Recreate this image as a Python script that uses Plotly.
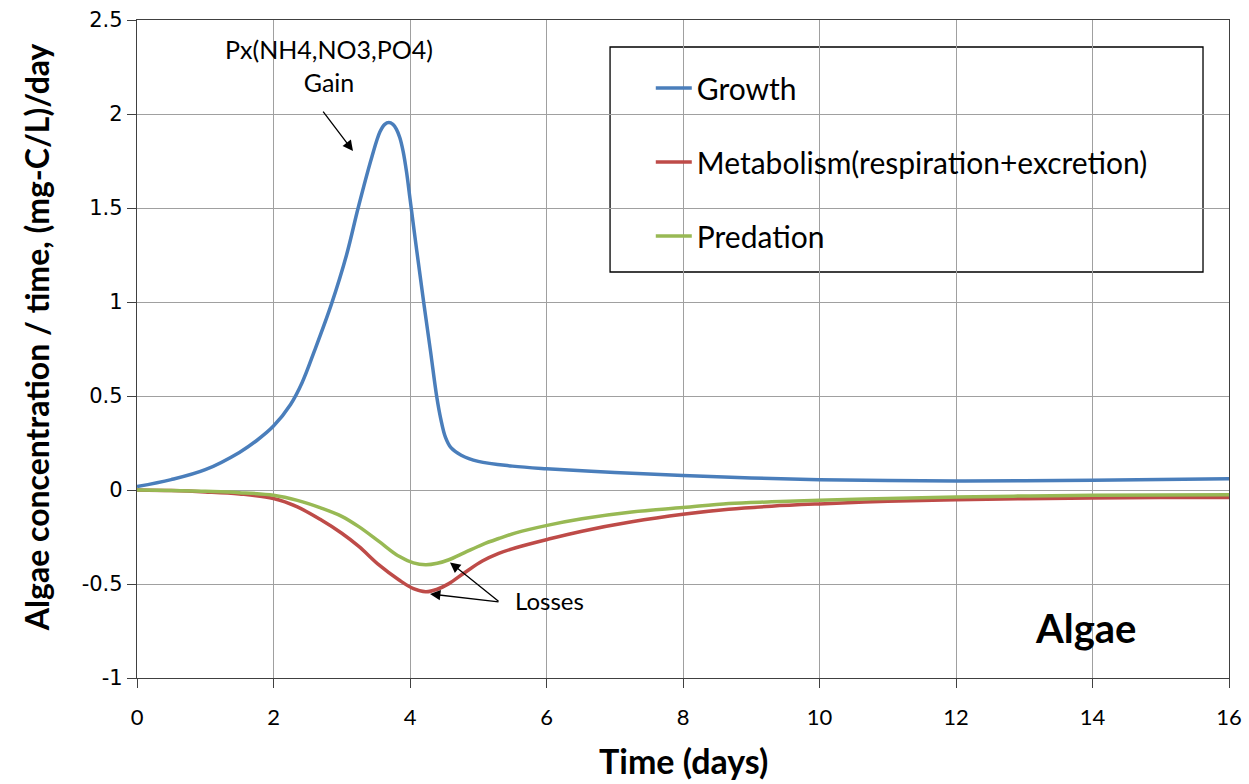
import plotly.graph_objects as go

# ---------------- data ----------------
t_growth = [0, 0.5, 1.0, 1.5, 1.75, 2.0, 2.25, 2.42, 2.6, 2.85, 3.07, 3.24, 3.44, 3.56, 3.63, 3.69,
            3.75, 3.8, 3.85, 3.9, 3.95, 4.0, 4.1, 4.2, 4.3, 4.39, 4.45, 4.52, 4.6, 4.75, 5.0, 5.5,
            6.0, 7.0, 8.0, 9.0, 10.0, 11.0, 12.0, 13.0, 14.0, 15.0, 16.0]
growth = [0.018, 0.055, 0.108, 0.2, 0.262, 0.34, 0.455, 0.572, 0.74, 0.99, 1.25, 1.5, 1.77, 1.905, 1.945, 1.955,
          1.945, 1.92, 1.875, 1.8, 1.69, 1.55, 1.27, 1.0, 0.74, 0.5, 0.38, 0.28, 0.225, 0.185, 0.152, 0.127,
          0.113, 0.093, 0.077, 0.064, 0.055, 0.05, 0.048, 0.049, 0.052, 0.056, 0.06]

t_loss = [0, 0.5, 1.0, 1.5, 2.0, 2.35, 2.7, 3.0, 3.25, 3.55, 3.84, 4.05, 4.23, 4.4, 4.57, 4.8,
          5.06, 5.3, 5.55, 6.01, 6.52, 7.25, 8.0, 8.67, 9.3, 10.0, 11.0, 12.0, 13.0, 14.0, 15.0, 16.0]
metabolism = [0, -0.003, -0.01, -0.021, -0.045, -0.09, -0.16, -0.23, -0.30, -0.40, -0.479, -0.525, -0.541,
              -0.528, -0.498, -0.44, -0.378, -0.337, -0.307, -0.263, -0.219, -0.169, -0.129, -0.102, -0.086,
              -0.074, -0.06, -0.052, -0.046, -0.042, -0.04, -0.04]
predation = [0, -0.002, -0.007, -0.014, -0.028, -0.055, -0.096, -0.14, -0.195, -0.275, -0.353, -0.388, -0.398,
             -0.39, -0.371, -0.333, -0.29, -0.258, -0.228, -0.188, -0.153, -0.117, -0.0935, -0.072, -0.063,
             -0.055, -0.045, -0.037, -0.032, -0.028, -0.026, -0.025]

series_names = ["Growth", "Metabolism(respiration+excretion)", "Predation"]
series_colors = ["#4A7EBB", "#BE4B48", "#98B954"]

x_ticks = [0, 2, 4, 6, 8, 10, 12, 14, 16]
x_tick_text = ["0", "2", "4", "6", "8", "10", "12", "14", "16"]
y_ticks = [-1, -0.5, 0, 0.5, 1, 1.5, 2, 2.5]
y_tick_text = ["-1", "-0.5", "0", "0.5", "1", "1.5", "2", "2.5"]

x_title = "Time (days)"
y_title = "Algae concentration / time, (mg-C/L)/day"

# ---------------- figure ----------------
fig = go.Figure()
for i, (tx, ty) in enumerate([(t_growth, growth), (t_loss, metabolism), (t_loss, predation)]):
    fig.add_trace(go.Scatter(
        x=tx, y=ty, mode="lines", name=series_names[i], legendgroup=f"g{i}",
        line=dict(color=series_colors[i], width=3.5, shape="spline", smoothing=1.0),
    ))

AX = "#404040"
GRID = "#A0A0A0"

fig.update_layout(
    width=1249, height=784,
    margin=dict(l=137, r=20, t=20, b=106),
    paper_bgcolor="white", plot_bgcolor="white",
    font=dict(family="Lato", color="black"),
    showlegend=True,
    legend=dict(
        x=0.4705, y=0.936, xanchor="left", yanchor="top",
        bgcolor="rgba(0,0,0,0)", borderwidth=0,
        font=dict(family="Lato", size=30, color="black"),
        tracegroupgap=32, itemwidth=36,
    ),
    xaxis=dict(
        range=[0, 16], tickvals=x_ticks, ticktext=x_tick_text, automargin=False,
        showgrid=True, gridcolor=GRID, gridwidth=1, zeroline=False,
        showline=True, linecolor=AX, linewidth=1.3, mirror=True,
        ticks="outside", ticklen=9, tickcolor=AX, tickwidth=1,
        ticklabelstandoff=10,
        tickfont=dict(family="Lato", size=22, color="black"),
    ),
    yaxis=dict(
        range=[-1, 2.5], tickvals=y_ticks, ticktext=y_tick_text, automargin=False,
        showgrid=True, gridcolor=GRID, gridwidth=1, zeroline=False,
        showline=True, linecolor=AX, linewidth=1.3, mirror=True,
        ticks="outside", ticklen=9, tickcolor=AX, tickwidth=1,
        tickfont=dict(family="DejaVu Sans", size=21, color="black"),
    ),
)

# axis titles
fig.add_annotation(xref="paper", yref="paper", x=0.5, y=-0.125, yanchor="middle", showarrow=False,
                   text=f"<b>{x_title}</b>", font=dict(family="Lato", size=34, color="black"))
fig.add_annotation(xref="paper", yref="paper", x=-0.0925, y=0.518, xanchor="center", yanchor="middle",
                   textangle=-90, showarrow=False,
                   text=f"<b>{y_title}</b>", font=dict(family="Lato", size=32, color="black"))

# white boxes (legend frame and text boxes covering the grid)
fig.add_shape(type="rect", xref="paper", yref="paper", x0=0.4332, x1=0.9762, y0=0.617, y1=0.959,
              line=dict(color="black", width=1.3), fillcolor="white", layer="between")
fig.add_shape(type="rect", xref="paper", yref="paper", x0=0.0275, x1=0.323, y0=0.851, y1=0.995,
              line=dict(width=0), fillcolor="white", layer="between")
fig.add_shape(type="rect", xref="paper", yref="paper", x0=0.334, x1=0.4707, y0=0.07, y1=0.1565,
              line=dict(width=0), fillcolor="white", layer="between")
fig.add_shape(type="rect", xref="paper", yref="paper", x0=0.80, x1=0.946, y0=0.018, y1=0.14,
              line=dict(width=0), fillcolor="white", layer="between")

# text annotations
fig.add_annotation(x=2.813, y=2.258, text="Px(NH4,NO3,PO4)<br>Gain", showarrow=False,
                   font=dict(family="Lato", size=25, color="black"))
fig.add_annotation(x=6.05, y=-0.59, text="Losses", showarrow=False,
                   font=dict(family="Lato", size=24, color="black"))
fig.add_annotation(x=13.9, y=-0.734, text="<b>Algae</b>", showarrow=False,
                   font=dict(family="Lato", size=40, color="black"))

# arrows
arrow_style = dict(showarrow=True, arrowhead=2, arrowsize=1.6, arrowwidth=1.3, arrowcolor="black",
                   standoff=0, text="")
fig.add_annotation(x=3.165, y=1.803, ax=-31, ay=-41, **arrow_style)
fig.add_annotation(x=4.293, y=-0.553, ax=70, ay=8, **arrow_style)
fig.add_annotation(x=4.586, y=-0.385, ax=50, ay=40, **arrow_style)

fig.write_html("out.html")
